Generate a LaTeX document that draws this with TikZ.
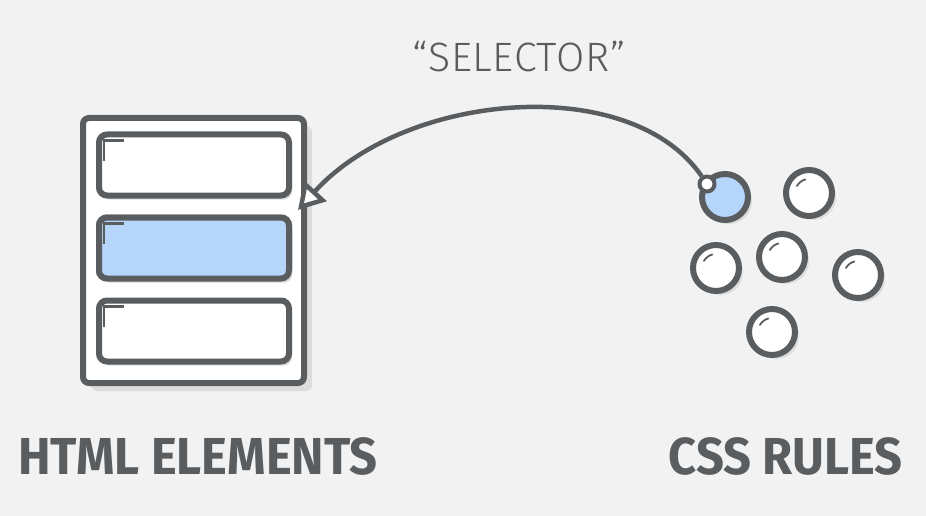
\documentclass[tikz,border=0pt]{standalone}
\usepackage{fontspec}
\usepackage{xcolor}
\usetikzlibrary{arrows.meta,shadows}
\newfontfamily\selfont{Fira Sans Light}[LetterSpace=1.5]
\newfontfamily\labelfont{Fira Sans}[FakeStretch=0.94]
\definecolor{inkgray}{HTML}{5A5D60}
\definecolor{paper}{HTML}{F2F2F2}
\definecolor{shade}{HTML}{DCDCDC}
\definecolor{pickblue}{HTML}{B5D5FB}

\tikzset{
  sheet/.style={rectangle, rounded corners=6pt, draw=inkgray, line width=6pt, fill=white,
    minimum width=221pt, minimum height=265pt, inner sep=0pt,
    drop shadow={shadow xshift=8pt, shadow yshift=-8pt, fill=shade, opacity=1}},
  elembox/.style={rectangle, rounded corners=8pt, draw=inkgray, line width=6pt, fill=white,
    minimum width=190pt, minimum height=61pt, inner sep=0pt,
    drop shadow={shadow xshift=3pt, shadow yshift=-4pt, fill=shade, opacity=1}},
  ruleball/.style={circle, draw=inkgray, line width=6pt, fill=white,
    minimum size=46pt, inner sep=0pt,
    drop shadow={shadow xshift=4pt, shadow yshift=-4pt, fill=shade, opacity=1}},
  cornermark/.style={inkgray, line width=2.5pt},
  gleam/.style={inkgray, line width=1.8pt, line cap=round},
  bigtitle/.style={inkgray, inner sep=0pt, font=\labelfont\bfseries\fontsize{52}{52}\selectfont},
  selarrow/.style={inkgray, line width=4.5pt,
    -{Triangle[open, fill=white, length=26pt, width=30pt]}},
}

\begin{document}
\begin{tikzpicture}[x=1pt, y=-1pt]
  \fill[paper] (0,0) rectangle (926,516);
  \useasboundingbox (0,0) rectangle (926,516);

  % HTML elements
  \node[sheet] (page) at (193.5,250.5) {};
  \foreach \n/\y in {elemA/165, elemB/248, elemC/331} {
    \node[elembox] (\n) at (194,\y) {};
  }
  \node[elembox, fill=pickblue] at (elemB) {};
  \foreach \n in {elemA, elemB, elemC} {
    \draw[cornermark] ([shift={(8,29)}]\n.north west) |- ([shift={(28,9)}]\n.north west);
  }

  % CSS rules
  \node[ruleball, fill=pickblue] (ruleA) at (725,197) {};
  \foreach \n/\x/\y in {ruleB/809/193, ruleC/716/268, ruleD/782/257, ruleE/858/275, ruleF/772/332} {
    \node[ruleball] (\n) at (\x,\y) {};
    \draw[gleam] ([shift={(-150:14)}]\n.center) arc[start angle=-150, end angle=-105, radius=14];
  }
  \node[circle, draw=inkgray, line width=4pt, fill=white, minimum size=15pt, inner sep=0pt] (handle) at (707,184) {};

  % Selector
  \coordinate (target) at (298,210);
  \draw[selarrow] (handle) .. controls (630,72) and (405,92) .. (target);
  \node[inkgray, anchor=base] (sel) at (519,72) {\selfont\fontsize{41}{41}\selectfont “SELECTOR”};

  % Labels
  \node[bigtitle, anchor=base west] (htmltitle) at (18,474) {HTML ELEMENTS};
  \node[bigtitle, anchor=base east] (csstitle) at (903,474) {CSS RULES};
\end{tikzpicture}
\end{document}
